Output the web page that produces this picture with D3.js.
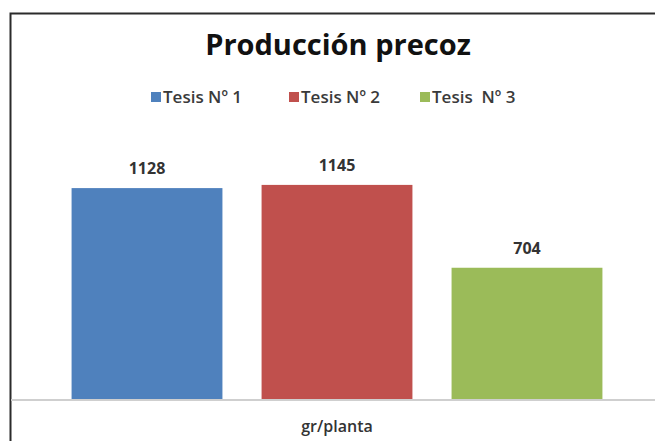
<!DOCTYPE html>
<html>
<head>
<meta charset="utf-8">
<script src="https://cdn.jsdelivr.net/npm/d3@7"></script>
<style>
  html, body { margin: 0; padding: 0; background: #fff; overflow: hidden; }
  svg { display: block; }
  text { font-family: "Open Sans", sans-serif; }
</style>
</head>
<body>
<div id="chart"></div>
<script>
// data
var categories = ["gr/planta"];
var series = ["Tesis Nº 1", "Tesis Nº 2", "Tesis  Nº 3"];
var values = [1128, 1145, 704];
var colors = ["#4F81BD", "#C0504D", "#9BBB59"];

var W = 655, H = 441;
var plot = {left: 10, right: 664, top: 137, bottom: 400};

var svg = d3.select("#chart")
  .append("svg")
    .attr("width", W)
    .attr("height", H);

// outer frame: only top and left edges are visible, the rest is cut off
svg.append("path")
  .attr("d", "M10.5," + H + "V13.5H" + W)
  .attr("fill", "none")
  .attr("stroke", "#2b2b2b")
  .attr("stroke-width", 2);

// title
svg.append("text")
  .attr("x", 338).attr("y", 55)
  .attr("text-anchor", "middle")
  .style("font-size", "29px")
  .style("font-weight", "bold")
  .attr("fill", "#111")
  .text("Producción precoz");

var x0 = d3.scaleBand()
  .domain(categories)
  .range([plot.left, plot.right])
  .paddingInner(0)
  .paddingOuter(0.116);

var x1 = d3.scaleBand()
  .domain(series)
  .range([0, x0.bandwidth()])
  .paddingInner(0.206)
  .paddingOuter(0);

var y = d3.scaleLinear()
  .domain([0, 1400])
  .range([plot.bottom, plot.top]);

var data = series.map(function (s, i) {
  return {cat: categories[0], name: s, value: values[i], color: colors[i]};
});

var bars = svg.selectAll(".bar")
  .data(data)
  .enter()
  .append("g");

bars.append("rect")
  .attr("class", "bar")
  .attr("x", function (d) { return x0(d.cat) + x1(d.name); })
  .attr("y", function (d) { return y(d.value); })
  .attr("width", x1.bandwidth())
  .attr("height", function (d) { return y(0) - y(d.value); })
  .attr("fill", function (d) { return d.color; });

// value labels above each bar
bars.append("text")
  .attr("x", function (d) { return x0(d.cat) + x1(d.name) + x1.bandwidth() / 2; })
  .attr("y", function (d) { return y(d.value) - 14; })
  .attr("text-anchor", "middle")
  .style("font-size", "16px")
  .style("font-weight", "bold")
  .attr("fill", "#333")
  .text(function (d) { return d.value; });

// x axis: baseline + category label
var xAxis = d3.axisBottom(x0).tickSize(0).tickPadding(21);
var gx = svg.append("g")
  .attr("class", "x axis")
  .attr("transform", "translate(0," + plot.bottom + ")")
  .call(xAxis);
gx.select(".domain").remove();
gx.selectAll("text")
  .style("font-size", "16px")
  .style("font-weight", "600")
  .style("font-family", "Open Sans, sans-serif")
  .attr("fill", "#333");

svg.append("line")
  .attr("x1", 11).attr("x2", W)
  .attr("y1", plot.bottom).attr("y2", plot.bottom)
  .attr("stroke", "#cfcfcf")
  .attr("stroke-width", 2);

// legend
var legendX = [151, 289, 420];
var legend = svg.selectAll(".legend")
  .data(data)
  .enter()
  .append("g")
    .attr("class", "legend")
    .attr("transform", function (d, i) { return "translate(" + legendX[i] + ",92)"; });

legend.append("rect")
  .attr("width", 10).attr("height", 10)
  .attr("fill", function (d) { return d.color; });

legend.append("text")
  .attr("x", 12).attr("y", 11)
  .style("font-size", "17px")
  .style("font-weight", "600")
  .style("white-space", "pre")
  .attr("xml:space", "preserve")
  .attr("fill", "#3a3a3a")
  .text(function (d) { return d.name; });
</script>
</body>
</html>
